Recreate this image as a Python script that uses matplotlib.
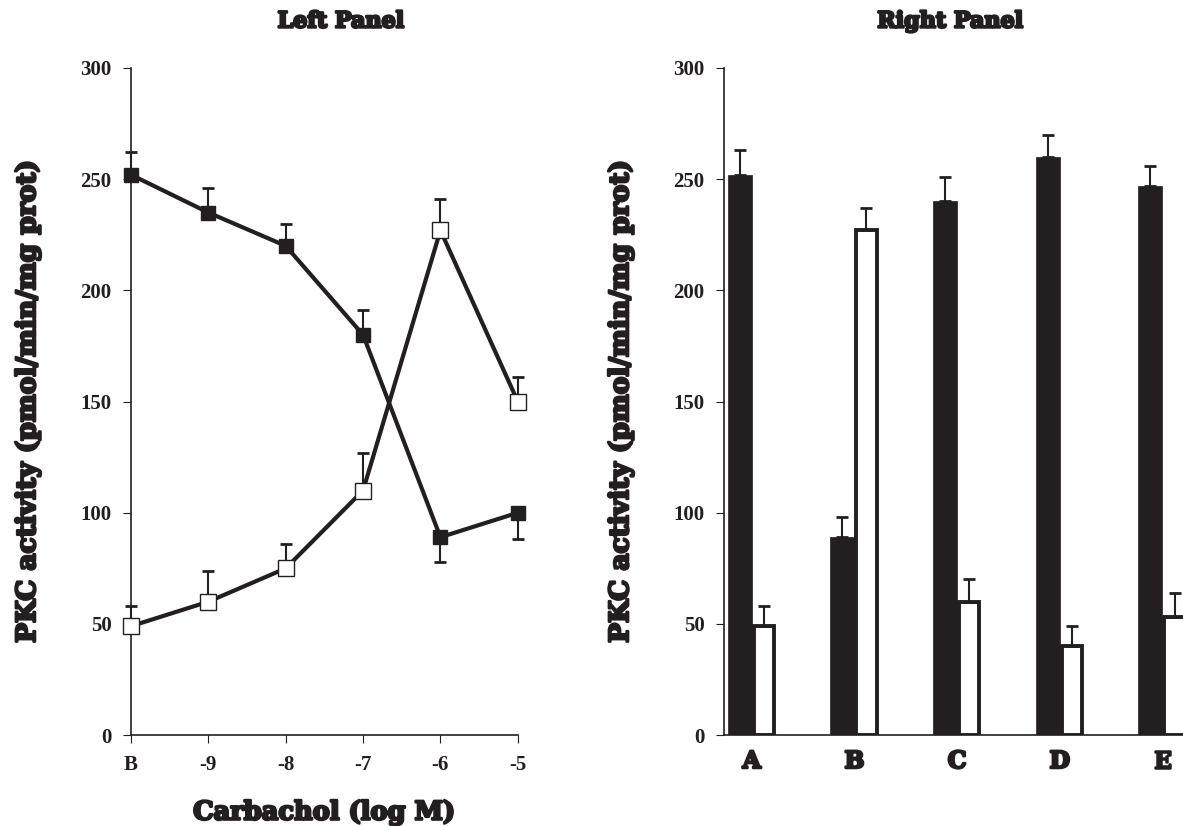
import matplotlib.pyplot as plt
import matplotlib.patheffects as pe
import numpy as np

# left panel: carbachol dose-response
doses = ['B', '-9', '-8', '-7', '-6', '-5']
filled_vals = [252, 235, 220, 180, 89, 100]
filled_err_up = [10, 11, 10, 11, 0, 0]
filled_err_down = [0, 0, 0, 0, 11, 12]
open_vals = [49, 60, 75, 110, 227, 150]
open_err_up = [9, 14, 11, 17, 14, 11]

# right panel: conditions
groups = ['A', 'B', 'C', 'D', 'E']
black_vals = [252, 89, 240, 260, 247]
black_err = [11, 9, 11, 10, 9]
white_vals = [49, 227, 60, 40, 53]
white_err = [9, 10, 10, 9, 11]

ink = '#231f20'
heavy = [pe.withStroke(linewidth=1.8, foreground=ink)]
plt.rcParams['font.family'] = ['Liberation Serif', 'DejaVu Serif']
plt.rcParams['font.weight'] = 'bold'
label_font = dict(family='DejaVu Serif', fontweight='bold', color=ink,
                  path_effects=heavy)


def style_axis(ax):
    for s in ['top', 'right']:
        ax.spines[s].set_visible(False)
    for s in ['left', 'bottom']:
        ax.spines[s].set_linewidth(1.2)
        ax.spines[s].set_color(ink)
    ax.set_ylim(0, 300)
    ax.set_yticks(np.arange(0, 301, 50))
    ax.tick_params(axis='both', direction='out', length=6, width=0.8,
                   labelsize=15, colors=ink, pad=8)
    for lab in ax.get_yticklabels() + ax.get_xticklabels():
        lab.set_fontweight('bold')
    ax.set_ylabel('PKC activity (pmol/min/mg prot)', fontsize=19, **label_font)


fig = plt.figure(figsize=(11.83, 8.26), dpi=100)

ax1 = fig.add_axes([0.1107, 0.110, 0.327, 0.8077])
x = np.arange(len(doses))
ax1.errorbar(x, filled_vals, yerr=[filled_err_down, filled_err_up], fmt='none',
             ecolor=ink, elinewidth=1.5, capsize=4, capthick=2, clip_on=False)
ax1.errorbar(x, open_vals, yerr=[np.zeros(len(open_vals)), open_err_up], fmt='none',
             ecolor=ink, elinewidth=1.5, capsize=4, capthick=2, clip_on=False)
ax1.plot(x, filled_vals, color=ink, lw=3, marker='s', markersize=10,
         markerfacecolor=ink, markeredgecolor=ink, clip_on=False, zorder=3)
ax1.plot(x, open_vals, color=ink, lw=3, marker='s', markersize=11,
         markerfacecolor='white', markeredgecolor=ink, markeredgewidth=1,
         clip_on=False, zorder=3)
ax1.set_xlim(0, 5)
ax1.set_xticks(x)
ax1.set_xticklabels(doses)
style_axis(ax1)
ax1.yaxis.set_label_coords(-0.235, 0.5)
ax1.set_xlabel('Carbachol (log M)', fontsize=18.5, labelpad=18, **label_font)
fig.text(0.288, 0.974, 'Left Panel', fontsize=16, ha='center', va='center',
         **label_font)

ax2 = fig.add_axes([0.612, 0.110, 0.388, 0.8077])
xg = np.arange(len(groups))
w = 0.235
ax2.bar(xg - w / 2, black_vals, w, color=ink, edgecolor=ink, linewidth=0.5,
        yerr=[np.zeros(len(black_vals)), black_err], ecolor=ink,
        error_kw=dict(elinewidth=1.5, capsize=4, capthick=2))
ax2.bar(xg + w / 2, white_vals, w * 0.85, color='white', edgecolor=ink, linewidth=2.8,
        yerr=[np.zeros(len(white_vals)), white_err], ecolor=ink,
        error_kw=dict(elinewidth=1.5, capsize=4, capthick=2))
ax2.set_xlim(-0.27, 4.2)
ax2.set_xticks(xg)
ax2.set_xticklabels(groups)
style_axis(ax2)
ax2.tick_params(axis='x', length=0, pad=10)
for lab in ax2.get_xticklabels():
    lab.set_family('DejaVu Serif')
    lab.set_fontsize(17)
    lab.set_path_effects(heavy)
ax2.yaxis.set_label_coords(-0.198, 0.5)
fig.text(0.803, 0.974, 'Right Panel', fontsize=16, ha='center', va='center',
         **label_font)

fig.savefig('out.png', dpi=100)
